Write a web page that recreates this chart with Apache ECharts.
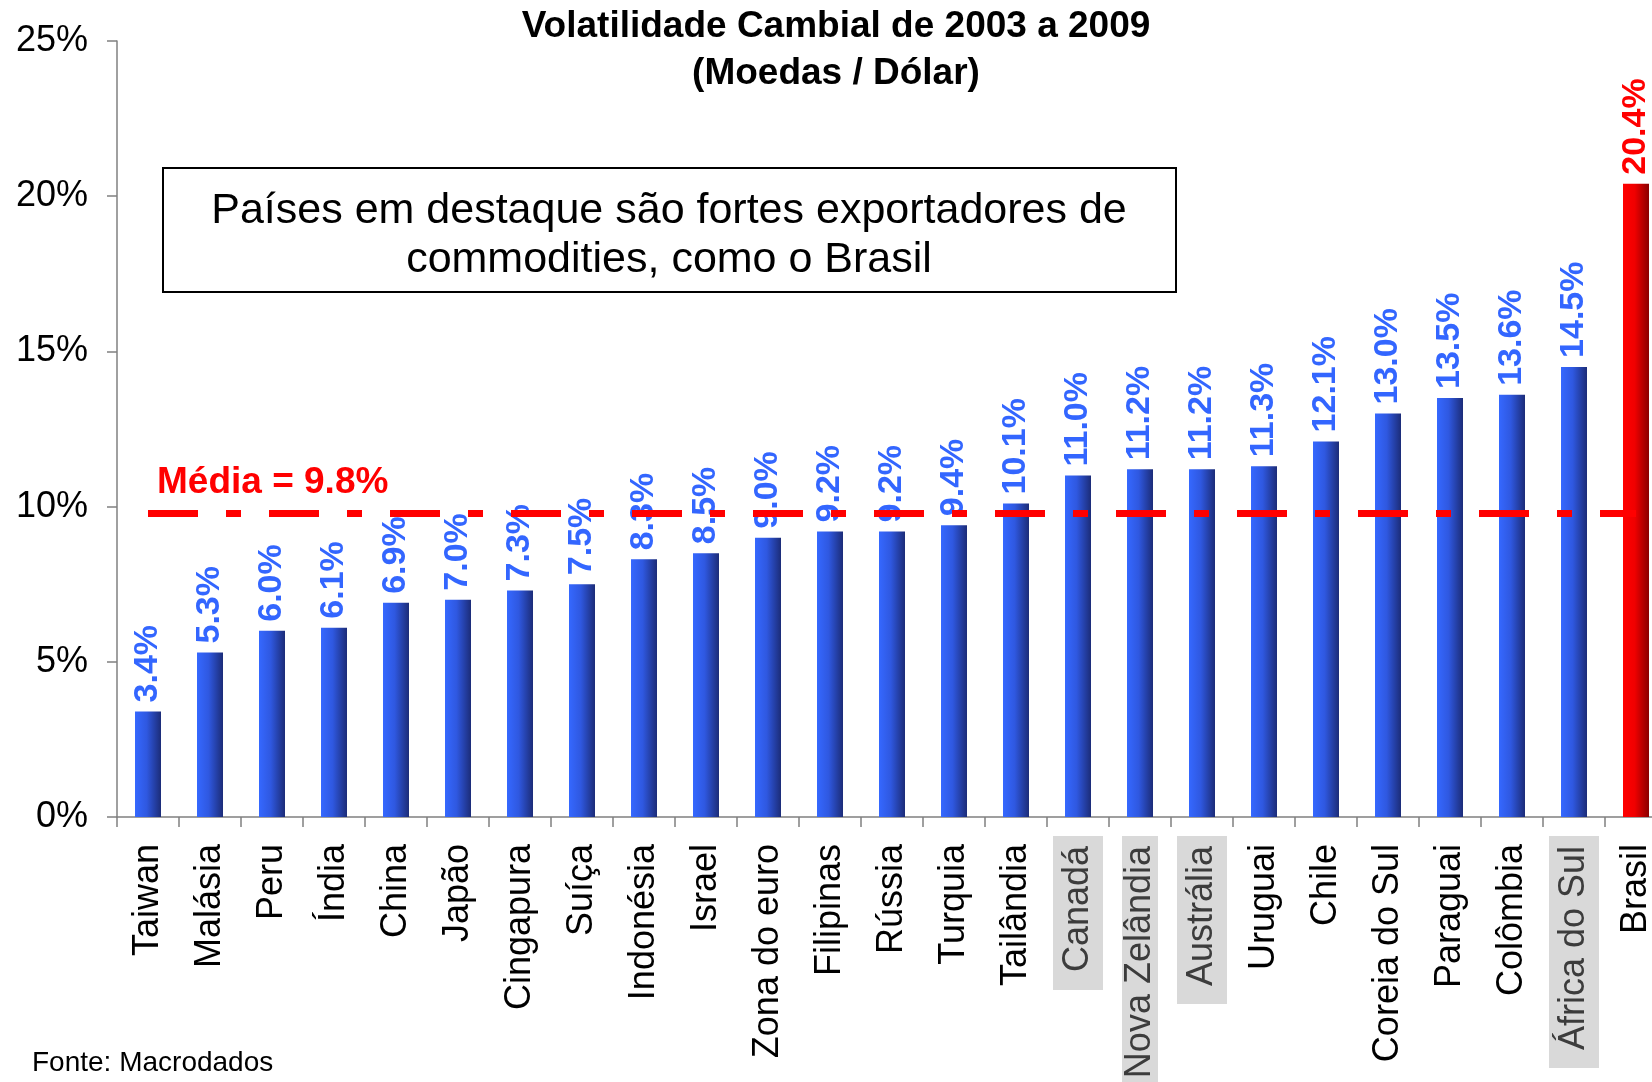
<!DOCTYPE html>
<html>
<head>
<meta charset="utf-8">
<script src="https://cdn.jsdelivr.net/npm/echarts@6/dist/echarts.min.js"></script>
<style>
html,body{margin:0;padding:0;background:#fff;}
#chart{width:1652px;height:1082px;}
</style>
</head>
<body>
<div id="chart"></div>
<script>
// ---- data ----
const categories = ['Taiwan','Malásia','Peru','Índia','China','Japão','Cingapura','Suíça','Indonésia','Israel','Zona do euro','Filipinas','Rússia','Turquia','Tailândia','Canadá','Nova Zelândia','Austrália','Uruguai','Chile','Coreia do Sul','Paraguai','Colômbia','África do Sul','Brasil'];
const values = [3.4, 5.3, 6.0, 6.1, 6.9, 7.0, 7.3, 7.5, 8.3, 8.5, 9.0, 9.2, 9.2, 9.4, 10.1, 11.0, 11.2, 11.2, 11.3, 12.1, 13.0, 13.5, 13.6, 14.5, 20.4];
const highlighted = ['Canadá', 'Nova Zelândia', 'Austrália', 'África do Sul'];
const homeCountry = 'Brasil';
const MEAN = 9.8;
const yTickLabels = ['0%', '5%', '10%', '15%', '20%', '25%'];
const titleLines = ['Volatilidade Cambial de 2003 a 2009', '(Moedas / Dólar)'];
const noteLines = ['Países em destaque são fortes exportadores de', 'commodities, como o Brasil'];
const sourceText = 'Fonte: Macrodados';

// ---- styles ----
const FONT = '"Liberation Sans", Arial, Helvetica, sans-serif';
const blueGrad = new echarts.graphic.LinearGradient(0, 0, 1, 0, [
  {offset: 0, color: '#3568ff'}, {offset: 0.45, color: '#2f58e0'}, {offset: 1, color: '#1c2c78'}
]);
const redGrad = new echarts.graphic.LinearGradient(0, 0, 1, 0, [
  {offset: 0, color: '#ff0000'}, {offset: 0.45, color: '#f00000'}, {offset: 1, color: '#8a0000'}
]);

const barData = values.map((v, i) => {
  const home = categories[i] === homeCountry;
  return {
    value: v,
    itemStyle: {color: home ? redGrad : blueGrad},
    label: {color: home ? '#ff0000' : '#3366ff'}
  };
});

const chart = echarts.init(document.getElementById('chart'), null, {renderer: 'canvas'});
chart.setOption({
  animation: false,
  backgroundColor: '#ffffff',
  grid: {left: 117, top: 41, width: 1550, height: 776, containLabel: false, outerBoundsMode: 'none'},
  xAxis: {
    type: 'category',
    data: categories,
    boundaryGap: true,
    axisLine: {show: true, lineStyle: {color: '#808080', width: 1.5}},
    axisTick: {show: true, length: 10, lineStyle: {color: '#808080', width: 1.5}},
    axisLabel: {
      interval: 0,
      rotate: 90,
      margin: 19,
      hideOverlap: false,
      fontFamily: FONT,
      formatter: function (name) {
        if (name === 'Nova Zelândia') return '{hn|' + name + '}';
        if (highlighted.indexOf(name) >= 0) return '{h|' + name + '}';
        return '{n|' + name + '}';
      },
      rich: {
        n: {fontSize: 36, fontFamily: FONT, color: '#000000', padding: [0, 8, 0, 0], lineHeight: 40},
        h: {fontSize: 36, fontFamily: FONT, color: '#3c3c3c', backgroundColor: '#d9d9d9', padding: [7, 10, 7, 18], lineHeight: 40},
        hn: {fontSize: 36, fontFamily: FONT, color: '#3c3c3c', backgroundColor: '#d9d9d9', padding: [0, 10, 0, 18], lineHeight: 38}
      }
    }
  },
  yAxis: {
    type: 'value',
    min: 0, max: 25, interval: 5,
    axisLine: {show: true, lineStyle: {color: '#808080', width: 1.5}},
    axisTick: {show: true, length: 10, lineStyle: {color: '#808080', width: 1.5}},
    splitLine: {show: false},
    axisLabel: {
      margin: 29,
      fontSize: 36,
      fontFamily: FONT,
      color: '#000000',
      formatter: function (v) { return yTickLabels[Math.round(v / 5)]; }
    }
  },
  series: [{
    type: 'bar',
    data: barData,
    barWidth: 26,
    label: {
      show: true,
      position: 'top',
      rotate: 90,
      align: 'left',
      verticalAlign: 'middle',
      distance: 9,
      fontSize: 34,
      fontWeight: 'bold',
      fontFamily: FONT,
      textBorderColor: 'rgba(255,255,255,0.9)',
      textBorderWidth: 1,
      formatter: function (p) { return p.value.toFixed(1) + '%'; }
    },
    markLine: {
      silent: true,
      symbol: ['none', 'none'],
      z: 10,
      lineStyle: {color: '#ff0000', width: 7, type: [50, 28, 15, 28], dashOffset: 0, cap: 'butt'},
      label: {
        show: true,
        position: 'insideStartTop',
        distance: [9, 12],
        formatter: 'Média = ' + MEAN.toFixed(1) + '%',
        fontSize: 37,
        fontWeight: 'bold',
        fontFamily: FONT,
        color: '#ff0000'
      },
      data: [[
        {coord: [categories[0], MEAN]},
        {coord: [categories[categories.length - 1], MEAN]}
      ]]
    }
  }],
  graphic: [
    {
      type: 'text', silent: true,
      style: {
        text: titleLines.join('\n'), x: 836, y: 3,
        font: 'bold 37px ' + FONT, textAlign: 'center', lineHeight: 47, fill: '#000'
      }
    },
    {
      type: 'rect', silent: true,
      shape: {x: 163, y: 168, width: 1013, height: 124},
      style: {fill: '#ffffff', stroke: '#000000', lineWidth: 2}
    },
    {
      type: 'text', silent: true,
      style: {
        text: noteLines.join('\n'), x: 669, y: 236,
        font: '43px ' + FONT, textAlign: 'center', textVerticalAlign: 'middle', lineHeight: 49, fill: '#000'
      }
    },
    {
      type: 'text', silent: true,
      style: {
        text: sourceText, x: 32, y: 1063,
        font: '28px ' + FONT, textAlign: 'left', textVerticalAlign: 'middle', fill: '#000'
      }
    }
  ]
});
</script>
</body>
</html>
